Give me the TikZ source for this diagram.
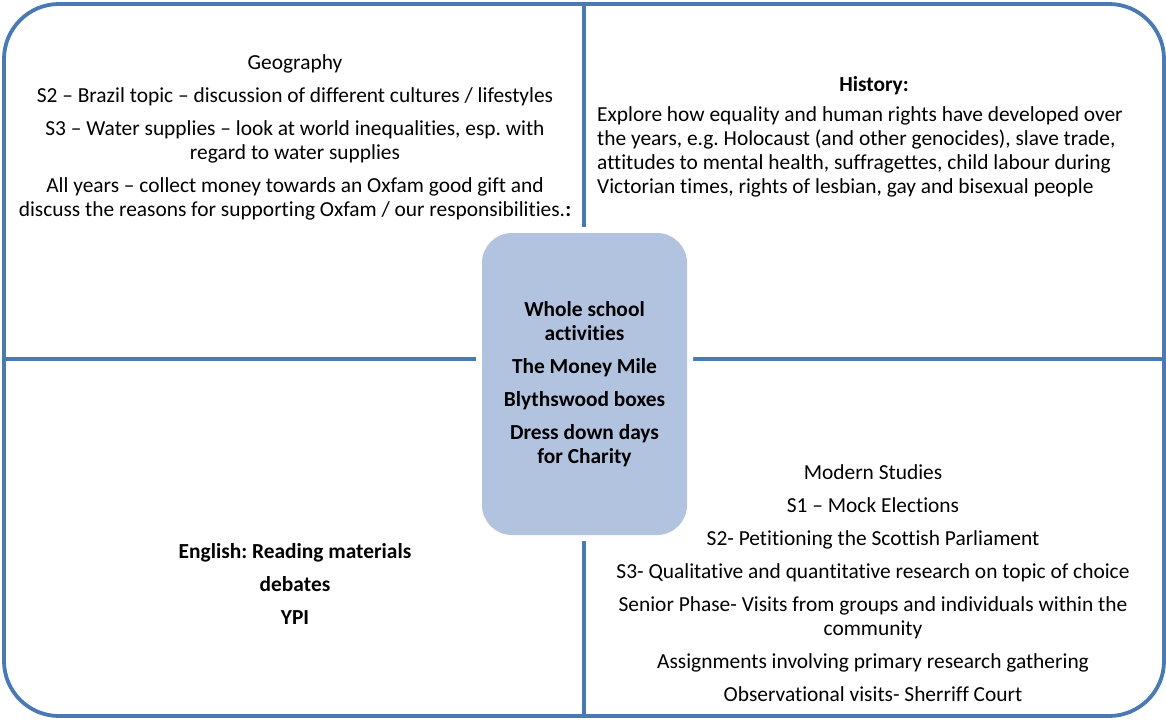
\documentclass[tikz,border=0pt]{standalone}
\usepackage{fontspec}
\setmainfont{Carlito}[Ligatures={NoCommon}]
\frenchspacing
\definecolor{framecol}{RGB}{74,122,180}
\definecolor{boxfill}{RGB}{178,195,224}
\begin{document}
\begin{tikzpicture}[x=1pt,y=-1pt,
  every node/.style={font=\fontsize{21.4}{24}\selectfont, inner sep=0pt, text=black},
  txt/.style={align=center},
  boldtxt/.style={align=center, font=\fontsize{21.4}{24}\selectfont\bfseries},
  frameline/.style={draw=framecol, line width=3.8pt},
  centerbox/.style={align=center, font=\fontsize{21.4}{24}\selectfont\bfseries,
    fill=boxfill, rounded corners=30pt, minimum width=205pt, minimum height=302pt,
    preaction={draw=white, line width=12pt}}]
\useasboundingbox (0,0) rectangle (1166,720);
\fill[white] (0,0) rectangle (1166,720);
% frame and dividers
\coordinate (tl) at (4,4);
\coordinate (br) at (1164,716);
\coordinate (vt) at (584,4);
\coordinate (vb) at (584,716);
\coordinate (hl) at (4,359);
\coordinate (hr) at (1164,359);
\draw[frameline, rounded corners=55pt] (tl) rectangle (br);
\draw[frameline] (vt) -- (vb);
\draw[frameline] (hl) -- (hr);
% centre box
\node[centerbox] (whole) at (584.5,384) {Whole school\\ activities\\[9pt] The Money Mile\\[9pt] Blythswood boxes\\[9pt] Dress down days\\ for Charity};
% geography
\node[txt] (geo) at (295,137.5) {Geography\\[9pt] S2 – Brazil topic – discussion of different cultures / lifestyles\\[9pt] S3 – Water supplies – look at world inequalities, esp. with\\ regard to water supplies\\[9pt] All years – collect money towards an Oxfam good gift and\\ discuss the reasons for supporting Oxfam / our responsibilities.\textbf{:}};
% history
\node[boldtxt] (histh) at (874,86) {History:};
\node[align=left, anchor=west] (hist) at (597,152) {Explore how equality and human rights have developed over\\ the years, e.g. Holocaust (and other genocides), slave trade,\\ attitudes to mental health, suffragettes, child labour during\\ Victorian times, rights of lesbian, gay and bisexual people};
% english
\node[boldtxt] (eng) at (295,583.5) {English: Reading materials\\[9pt] debates\\[9pt] YPI};
% modern studies
\node[txt] (mod) at (873,583) {Modern Studies\\[9pt] S1 – Mock Elections\\[9pt] S2- Petitioning the Scottish Parliament\\[9pt] S3- Qualitative and quantitative research on topic of choice\\[9pt] Senior Phase- Visits from groups and individuals within the\\ community\\[9pt] Assignments involving primary research gathering\\[9pt] Observational visits- Sherriff Court};
\end{tikzpicture}
\end{document}
